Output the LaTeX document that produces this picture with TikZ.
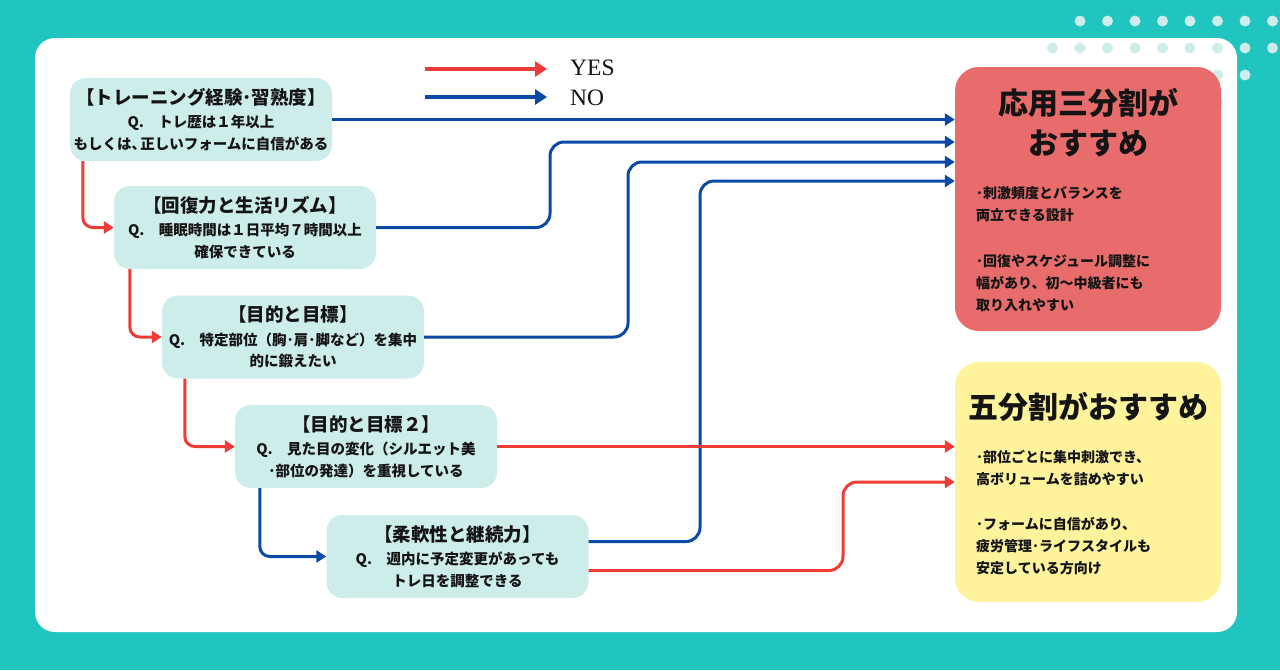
\documentclass[tikz,border=0pt]{standalone}
\usepackage{fontspec}
\setmainfont{Liberation Serif}
\newfontfamily\jp{Noto Sans CJK JP}
\usetikzlibrary{arrows.meta}
\definecolor{bgteal}{RGB}{32,197,191}
\definecolor{dotc}{RGB}{205,236,234}
\definecolor{qcyan}{RGB}{205,237,234}
\definecolor{rbox}{RGB}{232,108,108}
\definecolor{ybox}{RGB}{255,243,155}
\definecolor{yesred}{RGB}{240,60,55}
\definecolor{noblue}{RGB}{10,74,166}
\definecolor{txt}{RGB}{20,20,20}
\newcommand{\qtitle}[1]{{\fontsize{18.5}{21.5}\selectfont #1}}
\begin{document}
\begin{tikzpicture}[x=1pt,y=-1pt,
  qbox/.style={fill=qcyan, rounded corners=16pt, minimum width=262pt, minimum height=83pt,
    align=center, inner sep=0pt, text=txt, font=\jp\bfseries\fontsize{14.5}{21.5}\selectfont},
  resbox/.style={rounded corners=24pt, minimum width=266pt, inner sep=0pt},
  rtitle/.style={align=center, inner sep=0pt, text=txt, font=\jp\bfseries\fontsize{30}{40}\selectfont},
  bullet/.style={align=left, inner sep=0pt, anchor=west, text=txt, font=\jp\bfseries\fontsize{14}{22}\selectfont},
  legendtxt/.style={inner sep=0pt, anchor=west, text=txt, font=\fontsize{23.5}{24}\selectfont},
  yesline/.style={draw=yesred, line width=3pt, -{Triangle[length=10pt,width=12pt]}, rounded corners=14pt},
  noline/.style={draw=noblue, line width=3pt, -{Triangle[length=10pt,width=12pt]}, rounded corners=14pt},
  bigtip/.style={-{Triangle[length=12pt,width=15pt]}, line width=3.5pt},
  dotmark/.style={fill=dotc}
]
\useasboundingbox (0,0) rectangle (1280,670);
\fill[bgteal] (0,0) rectangle (1280,670);
\fill[white, rounded corners=20pt] (35,38) rectangle (1237,632);
% dots
\foreach \x in {1080,1107.5,1135,1162.5,1190,1217.5,1245,1272.5} {\fill[dotmark] (\x,21) circle (5.5pt);}
\foreach \x in {1052.5,1080,1107.5,1135,1162.5,1190,1217.5,1245,1272.5} {\fill[dotmark] (\x,48) circle (5.5pt);}
\foreach \x in {1135,1162.5,1190,1217.5,1245} {\fill[dotmark] (\x,75) circle (5.5pt);}
\fill[dotmark] (1217.5,102) circle (5.5pt);

% result boxes
\node[resbox, fill=rbox, minimum height=264pt] (r) at (1088,199) {};
\node[resbox, fill=ybox, minimum height=240pt] (y) at (1088,482) {};
\node[rtitle] (rt) at (1088,123) {応用三分割が\\おすすめ};
\node[bullet] (rb1) at (976,204) {･刺激頻度とバランスを\\両立できる設計};
\node[bullet] (rb2) at (976,283) {･回復やスケジュール調整に\\幅があり、初〜中級者にも\\取り入れやすい};
\node[rtitle] (yt) at (1088,407) {五分割がおすすめ};
\node[bullet] (yb1) at (976,468) {･部位ごとに集中刺激でき、\\高ボリュームを詰めやすい};
\node[bullet] (yb2) at (976,546) {･フォームに自信があり、\\疲労管理･ライフスタイルも\\安定している方向け};

% question boxes
\node[qbox] (b1) at (201,119.5) {\qtitle{【トレーニング経験･習熟度】}\\[2pt]Q.　トレ歴は１年以上\\もしくは、\kern-0.4em 正しいフォームに自信がある};
\node[qbox] (b2) at (245,227.5) {\qtitle{【回復力と生活リズム】}\\[2pt]Q.　睡眠時間は１日平均７時間以上\\確保できている};
\node[qbox] (b3) at (293,337) {\qtitle{【目的と目標】}\\[2pt]Q.　特定部位（胸･肩･脚など）を集中\\的に鍛えたい};
\node[qbox] (b4) at (366,446.5) {\qtitle{【目的と目標２】}\\[2pt]Q.　見た目の変化（シルエット美\\･部位の発達）を重視している};
\node[qbox] (b5) at (457.5,556.5) {\qtitle{【柔軟性と継続力】}\\[2pt]Q.　週内に予定変更があっても\\トレ日を調整できる};

% legend
\coordinate (ly0) at (425,69);
\coordinate (ly1) at (547,69);
\coordinate (ln0) at (425,97);
\coordinate (ln1) at (547,97);
\draw[yesline, bigtip] (ly0) -- (ly1);
\draw[noline, bigtip] (ln0) -- (ln1);
\node[legendtxt] (lyes) at (570,68) {YES};
\node[legendtxt] (lno) at (570,98) {NO};

% left connectors
\draw[yesline, rounded corners=10pt] ([xshift=13pt]b1.south west) |- (b2.west);
\draw[yesline, rounded corners=10pt] ([xshift=16pt]b2.south west) |- (b3.west);
\draw[yesline, rounded corners=10pt] ([xshift=23pt]b3.south west) |- (b4.west);
\draw[noline, rounded corners=10pt] ([xshift=25pt]b4.south west) |- (b5.west);

% right connectors
\coordinate (k2) at (550,142);
\coordinate (k3) at (628,162);
\coordinate (k5) at (700,181);
\coordinate (k6) at (843,482);
\draw[noline] (b1.east) -- (b1.east -| r.west);
\draw[noline] (b2.east) -| (k2) -- (k2 -| r.west);
\draw[noline] (b3.east) -| (k3) -- (k3 -| r.west);
\draw[noline] ([yshift=15pt]b5.east) -| (k5) -- (k5 -| r.west);
\draw[yesline] (b4.east) -- (b4.east -| y.west);
\draw[yesline] ([yshift=-14pt]b5.east) -| (k6) -- (k6 -| y.west);
\end{tikzpicture}
\end{document}
